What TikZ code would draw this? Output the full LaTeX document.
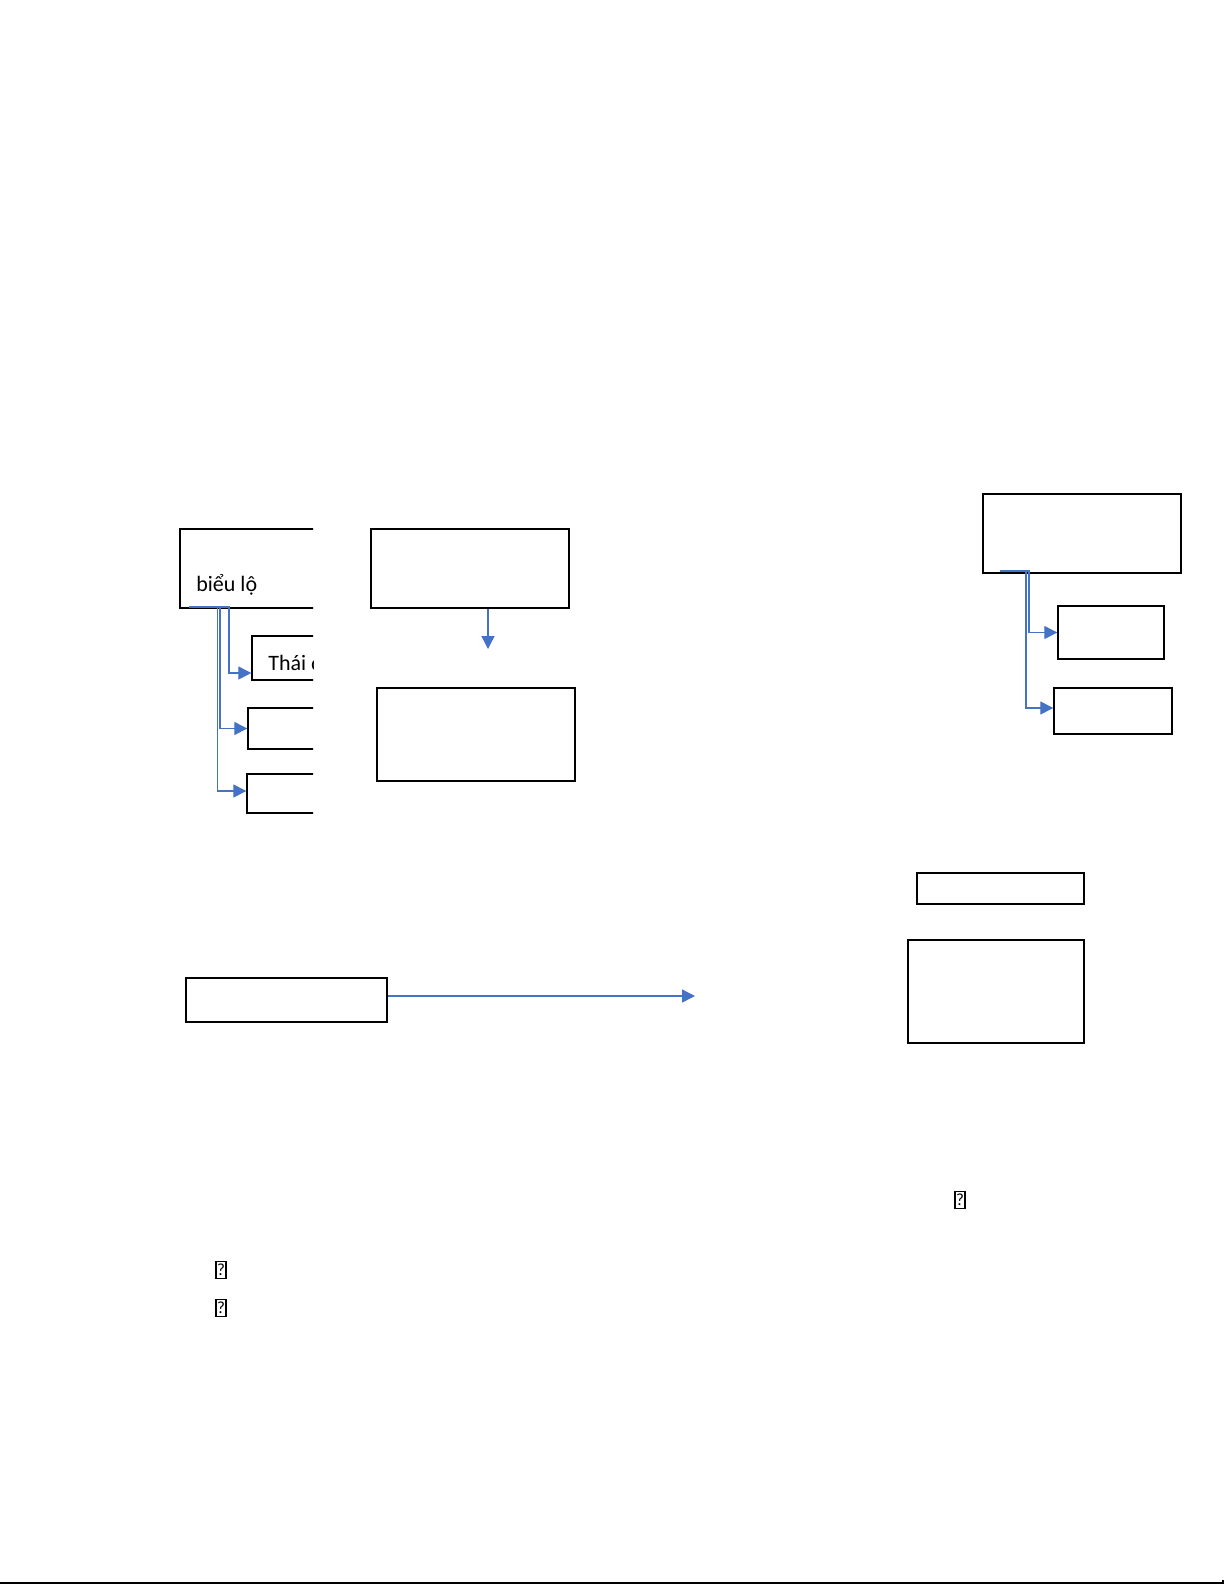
\documentclass[tikz,border=0pt]{standalone}
\usepackage{fontspec}
\setmainfont{Carlito}
\usetikzlibrary{arrows.meta,fit}
\definecolor{linkblue}{HTML}{4472C4}
\tikzset{
  box/.style={draw, line width=0.7pt, inner sep=0pt},
  link/.style={draw=linkblue, line width=0.65pt, -{Triangle[length=6.5pt,width=6.5pt]}},
  missing/.style={draw, line width=0.6pt, inner sep=0pt, font=\fontsize{8.5}{8.5}\selectfont, minimum width=5pt, minimum height=8.5pt}
}
\begin{document}
\begin{tikzpicture}[x=0.5pt, y=-0.5pt, font=\fontsize{11}{13}\selectfont]
\useasboundingbox (0,0) rectangle (1225,1585);
% left group, cut off at the right
\begin{scope}
  \clip (0,0) rectangle (313,1585);
  \node[box, fit={(180,529) (360,608)}] (bieu) {};
  \node[anchor=base west, inner sep=0pt] (bieutext) at (196,591) {biểu lộ};
  \node[box, fit={(252,636) (360,680)}] (thai) {};
  \node[anchor=base west, inner sep=0pt] (thaitext) at (268,670) {Thái độ};
  \node[box, fit={(248,708) (360,749)}] (left2) {};
  \node[box, fit={(247,774) (360,813)}] (left3) {};
\end{scope}
\coordinate (bieuout) at (189,607);
\draw[link] (bieuout) -- (229,607) |- (thai.west |- 0,673);
\draw[link] (bieuout) -- (220,607) |- (left2.west);
\draw[link] (bieuout) -- (217.5,607) |- (left3.west |- 0,791);

% middle pair
\node[box, fit={(371,529) (569,608)}] (mid1) {};
\node[box, fit={(377,688) (575,781)}] (mid2) {};
\coordinate (midend) at (488,649);
\draw[link] (mid1.south -| midend) -- (midend);

% right group
\node[box, fit={(983,494) (1181,573)}] (right) {};
\node[box, fit={(1058,606) (1164,659)}] (right1) {};
\node[box, fit={(1054,688) (1172,734)}] (right2) {};
\coordinate (rightout) at (1000,571);
\draw[link] (rightout) -- (1029,571) |- (right1.west);
\draw[link] (rightout) -- (1026,571) |- (right2.west |- 0,708);

% lower part
\node[box, fit={(186,978) (387,1022)}] (lower) {};
\coordinate (lowerend) at (695,996);
\draw[link] (lower.east |- lowerend) -- (lowerend);
\node[box, fit={(917,873) (1084,904)}] (strip) {};
\node[box, fit={(908,940) (1084,1043)}] (square) {};

% missing glyphs
\node[missing] (q1) at (960,1200) {?};
\node[missing] (q2) at (221,1270) {?};
\node[missing] (q3) at (221,1308) {?};

% page edge
\draw[line width=0.8pt] (0,1583) -- (1223,1583) -- (1223,1580);
\end{tikzpicture}
\end{document}
